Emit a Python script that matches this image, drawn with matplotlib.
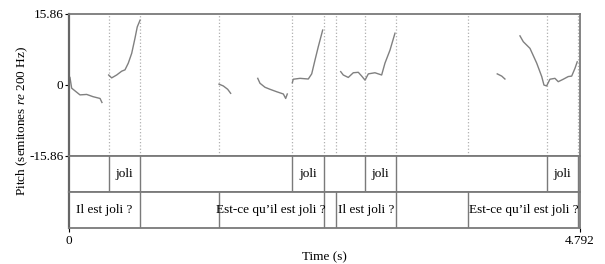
import matplotlib
matplotlib.use("Agg")
import matplotlib.pyplot as plt

plt.rcParams['font.family'] = ['Liberation Serif', 'DejaVu Serif']
plt.rcParams['mathtext.fontset'] = 'custom'
plt.rcParams['mathtext.rm'] = 'Liberation Serif'
plt.rcParams['mathtext.it'] = 'Liberation Serif:italic'

t_end = 4.792
ymax = 15.86

# pitch contours (time s, semitones re 200 Hz)
seg_t = [
    [0.009, 0.025, 0.103, 0.166, 0.225, 0.291, 0.309],
    [0.372, 0.400, 0.447, 0.494, 0.525, 0.556, 0.588, 0.619, 0.640, 0.666],
    [1.407, 1.447, 1.488, 1.516],
    [1.770, 1.791, 1.838, 1.885, 1.948, 2.010, 2.032, 2.047],
    [2.094, 2.103, 2.166, 2.244, 2.276, 2.307, 2.338, 2.379],
    [2.548, 2.572, 2.619, 2.666, 2.713, 2.745, 2.776, 2.807, 2.869, 2.932, 2.963, 3.010, 3.057],
    [4.016, 4.058, 4.088],
    [4.229, 4.260, 4.323, 4.386, 4.433, 4.454, 4.479, 4.510, 4.557, 4.588, 4.635, 4.682, 4.714, 4.745, 4.766],
]
seg_st = [
    [1.6, -0.8, -2.3, -2.2, -2.7, -3.1, -4.0],
    [2.15, 1.5, 2.15, 3.0, 3.3, 4.8, 7.0, 10.4, 12.9, 14.4],
    [0.1, -0.3, -1.05, -1.95],
    [1.4, 0.3, -0.6, -1.05, -1.6, -2.1, -3.1, -2.1],
    [0.4, 1.2, 1.4, 1.25, 2.4, 5.5, 8.5, 12.2],
    [2.9, 2.15, 1.6, 2.65, 2.75, 1.9, 1.0, 2.4, 2.65, 2.15, 4.8, 7.7, 11.5],
    [2.4, 1.9, 1.25],
    [10.9, 9.6, 8.1, 4.8, 1.8, -0.1, -0.3, 1.2, 1.4, 0.65, 1.2, 1.8, 1.9, 3.65, 5.1],
]

# tiers: boundaries and labels
tier1_bounds = [0, 0.372, 0.666, 2.094, 2.387, 2.779, 3.062, 4.478, 4.775, t_end]
tier1_labels = ["", "joli", "", "joli", "", "joli", "", "joli", ""]
tier2_bounds = [0, 0.666, 1.407, 2.387, 2.506, 3.062, 3.746, 4.775, t_end]
tier2_labels = ["Il est joli ?", "", "Est-ce qu\u2019il est joli ?", "", "Il est joli ?", "",
                "Est-ce qu\u2019il est joli ?", ""]

fig = plt.figure(figsize=(6.05, 2.64), dpi=100)
L, W = 69 / 605, 511 / 605
ax = fig.add_axes([L, 1 - 155.5 / 264, W, 141.8 / 264])
ax1 = fig.add_axes([L, 1 - 192 / 264, W, 36.5 / 264])
ax2 = fig.add_axes([L, 1 - 228 / 264, W, 36 / 264])

frame_c = '#7a7a7a'
fs = 9.5

for a in (ax, ax1, ax2):
    a.set_xlim(0, t_end)
    for s in a.spines.values():
        s.set_color(frame_c)
        s.set_linewidth(1.3)
    a.spines['left'].set_color('#666666')
    a.spines['left'].set_linewidth(1.6)
    a.tick_params(colors='black', labelsize=fs, length=3, width=0.8)
    a.set_xticks([])

ax.set_ylim(-ymax, ymax)
ax.set_yticks([-ymax, 0, ymax])
ax.set_yticklabels(["-15.86", "0", "15.86"])
ax.tick_params(axis='y', pad=1)

# dotted boundary lines in the pitch area
for b in sorted(set(tier1_bounds[1:-1] + tier2_bounds[1:-1])):
    ax.axvline(b, color='#b0b0b0', ls=':', lw=0.9)

for ts, ss in zip(seg_t, seg_st):
    ax.plot(ts, ss, color='#808080', lw=1.0)

for a, bounds, labels in ((ax1, tier1_bounds, tier1_labels), (ax2, tier2_bounds, tier2_labels)):
    a.set_ylim(0, 1)
    a.set_yticks([])
    for b in bounds[1:-1]:
        a.axvline(b, color=frame_c, lw=1.0)
    for i, lab in enumerate(labels):
        if lab:
            a.text((bounds[i] + bounds[i + 1]) / 2, 0.5, lab, ha='center', va='center', fontsize=fs)

ax2.set_xticks([0, t_end])
ax2.set_xticklabels(["0", "4.792"])
ax2.tick_params(axis='x', pad=2)
ax2.set_xlabel("Time (s)", fontsize=fs, labelpad=3)

fig.text(22 / 605, 1 - 121 / 264, r"Pitch (semitones $\mathit{re}$ 200 Hz)", rotation=90,
         ha='center', va='center', fontsize=fs)

fig.savefig("out.png", dpi=100)
